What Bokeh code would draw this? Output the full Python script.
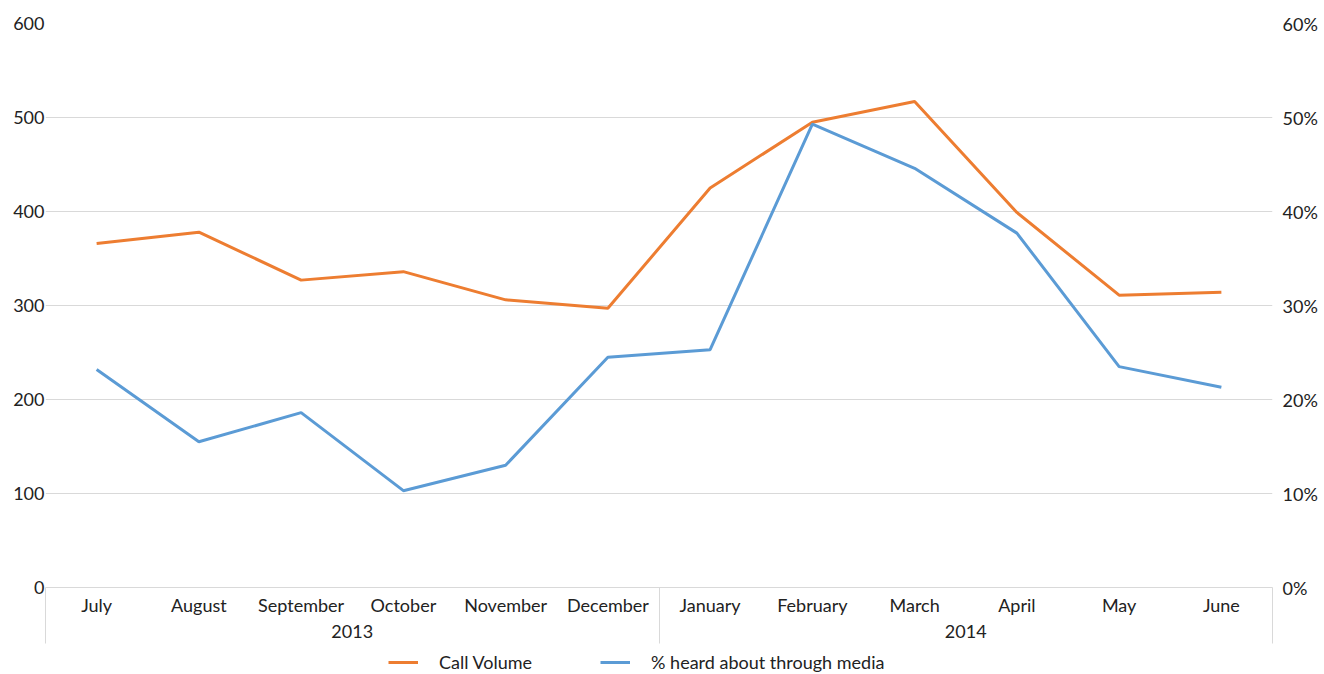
from bokeh.plotting import figure
from bokeh.layouts import column
from bokeh.models import (Range1d, LinearAxis, FixedTicker, Legend, LegendItem,
                          NumeralTickFormatter, ColumnDataSource)
from bokeh.embed import file_html
from bokeh.resources import INLINE

months = ["July", "August", "September", "October", "November", "December",
          "January", "February", "March", "April", "May", "June"]
years = ["2013", "2014"]
call_volume = [366, 378, 327, 336, 306, 297, 425, 495, 517, 399, 311, 314]
pct_media = [0.232, 0.155, 0.186, 0.103, 0.130, 0.245, 0.253, 0.493, 0.446, 0.377, 0.235, 0.213]
series_names = ["Call Volume", "% heard about through media"]

FONT = "Lato"
FS = "18px"
GRID = "#d9d9d9"
TXT = "#222222"
ORANGE = "#ED7D31"
BLUE = "#5B9BD5"

xs = [i + 0.5 for i in range(len(months))]
src = ColumnDataSource(dict(x=xs, calls=call_volume, pct=pct_media))

p = figure(width=1324, height=650, output_backend="svg", toolbar_location=None,
           x_range=Range1d(0, len(months)), y_range=Range1d(0, 600),
           min_border_left=45, min_border_right=52, min_border_top=23, min_border_bottom=63,
           x_axis_location=None, y_axis_location=None)
p.outline_line_color = None
p.extra_y_ranges = {"pct": Range1d(0, 0.6)}

p.xgrid.visible = False
p.ygrid.grid_line_color = GRID
p.ygrid.grid_line_width = 1
p.ygrid.ticker = FixedTicker(ticks=[0, 100, 200, 300, 400, 500, 600])

# left axis
la = LinearAxis(ticker=FixedTicker(ticks=[0, 100, 200, 300, 400, 500, 600]))
la.axis_line_color = None
la.major_tick_line_color = None
la.minor_tick_line_color = None
la.major_tick_out = 0
la.major_tick_in = 0
la.major_label_standoff = 1
la.major_label_text_font = FONT
la.major_label_text_font_size = FS
la.major_label_text_color = TXT
p.add_layout(la, "left")

# right axis
ra = LinearAxis(y_range_name="pct", ticker=FixedTicker(ticks=[0, 0.1, 0.2, 0.3, 0.4, 0.5, 0.6]),
                formatter=NumeralTickFormatter(format="0%"))
ra.axis_line_color = None
ra.major_tick_line_color = None
ra.minor_tick_line_color = None
ra.major_tick_out = 0
ra.major_tick_in = 0
ra.major_label_standoff = 10
ra.major_label_text_font = FONT
ra.major_label_text_font_size = FS
ra.major_label_text_color = TXT
p.add_layout(ra, "right")

# month axis with group separators
ma = LinearAxis(ticker=FixedTicker(ticks=xs, minor_ticks=[0, 6, 12]),
                major_label_overrides={x: m for x, m in zip(xs, months)})
ma.axis_line_color = GRID
ma.major_tick_line_color = None
ma.major_tick_out = 0
ma.major_tick_in = 0
ma.minor_tick_line_color = GRID
ma.minor_tick_out = 56
ma.minor_tick_in = 0
ma.major_label_standoff = -50
ma.major_label_text_font = FONT
ma.major_label_text_font_size = FS
ma.major_label_text_color = TXT
p.add_layout(ma, "below")

# year axis
ya = LinearAxis(ticker=FixedTicker(ticks=[3, 9]),
                major_label_overrides={3: years[0], 9: years[1]})
ya.axis_line_color = None
ya.major_tick_line_color = None
ya.major_tick_out = 0
ya.major_tick_in = 0
ya.minor_tick_line_color = None
ya.major_label_standoff = 6
ya.major_label_text_font = FONT
ya.major_label_text_font_size = FS
ya.major_label_text_color = TXT
p.add_layout(ya, "below")

p.line("x", "calls", source=src, line_color=ORANGE, line_width=3)
p.line("x", "pct", source=src, y_range_name="pct", line_color=BLUE, line_width=3)

# legend strip (proxy lines with a single vertex: nothing drawn in the strip itself)
lg = figure(width=1324, height=24, output_backend="svg", toolbar_location=None,
            x_range=Range1d(0, 12), y_range=Range1d(0, 600),
            min_border_left=0, min_border_right=0, min_border_top=0, min_border_bottom=0,
            x_axis_location=None, y_axis_location=None)
lg.outline_line_color = None
lg.grid.visible = False
k1 = lg.line(x=xs[:1], y=call_volume[:1], line_color=ORANGE, line_width=3)
k2 = lg.line(x=xs[:1], y=call_volume[:1], line_color=BLUE, line_width=3)
legend = Legend(items=[LegendItem(label=series_names[0], renderers=[k1]),
                       LegendItem(label=series_names[1], renderers=[k2])],
                orientation="horizontal", location=(343, 1))
legend.label_text_font = FONT
legend.label_text_font_size = FS
legend.label_text_color = TXT
legend.glyph_width = 30
legend.label_standoff = 21
legend.spacing = 68
legend.border_line_color = None
legend.background_fill_alpha = 0
legend.padding = 2
legend.margin = 0
lg.add_layout(legend, "center")

open("out.html", "w").write(file_html(column(p, lg, spacing=0), INLINE))
